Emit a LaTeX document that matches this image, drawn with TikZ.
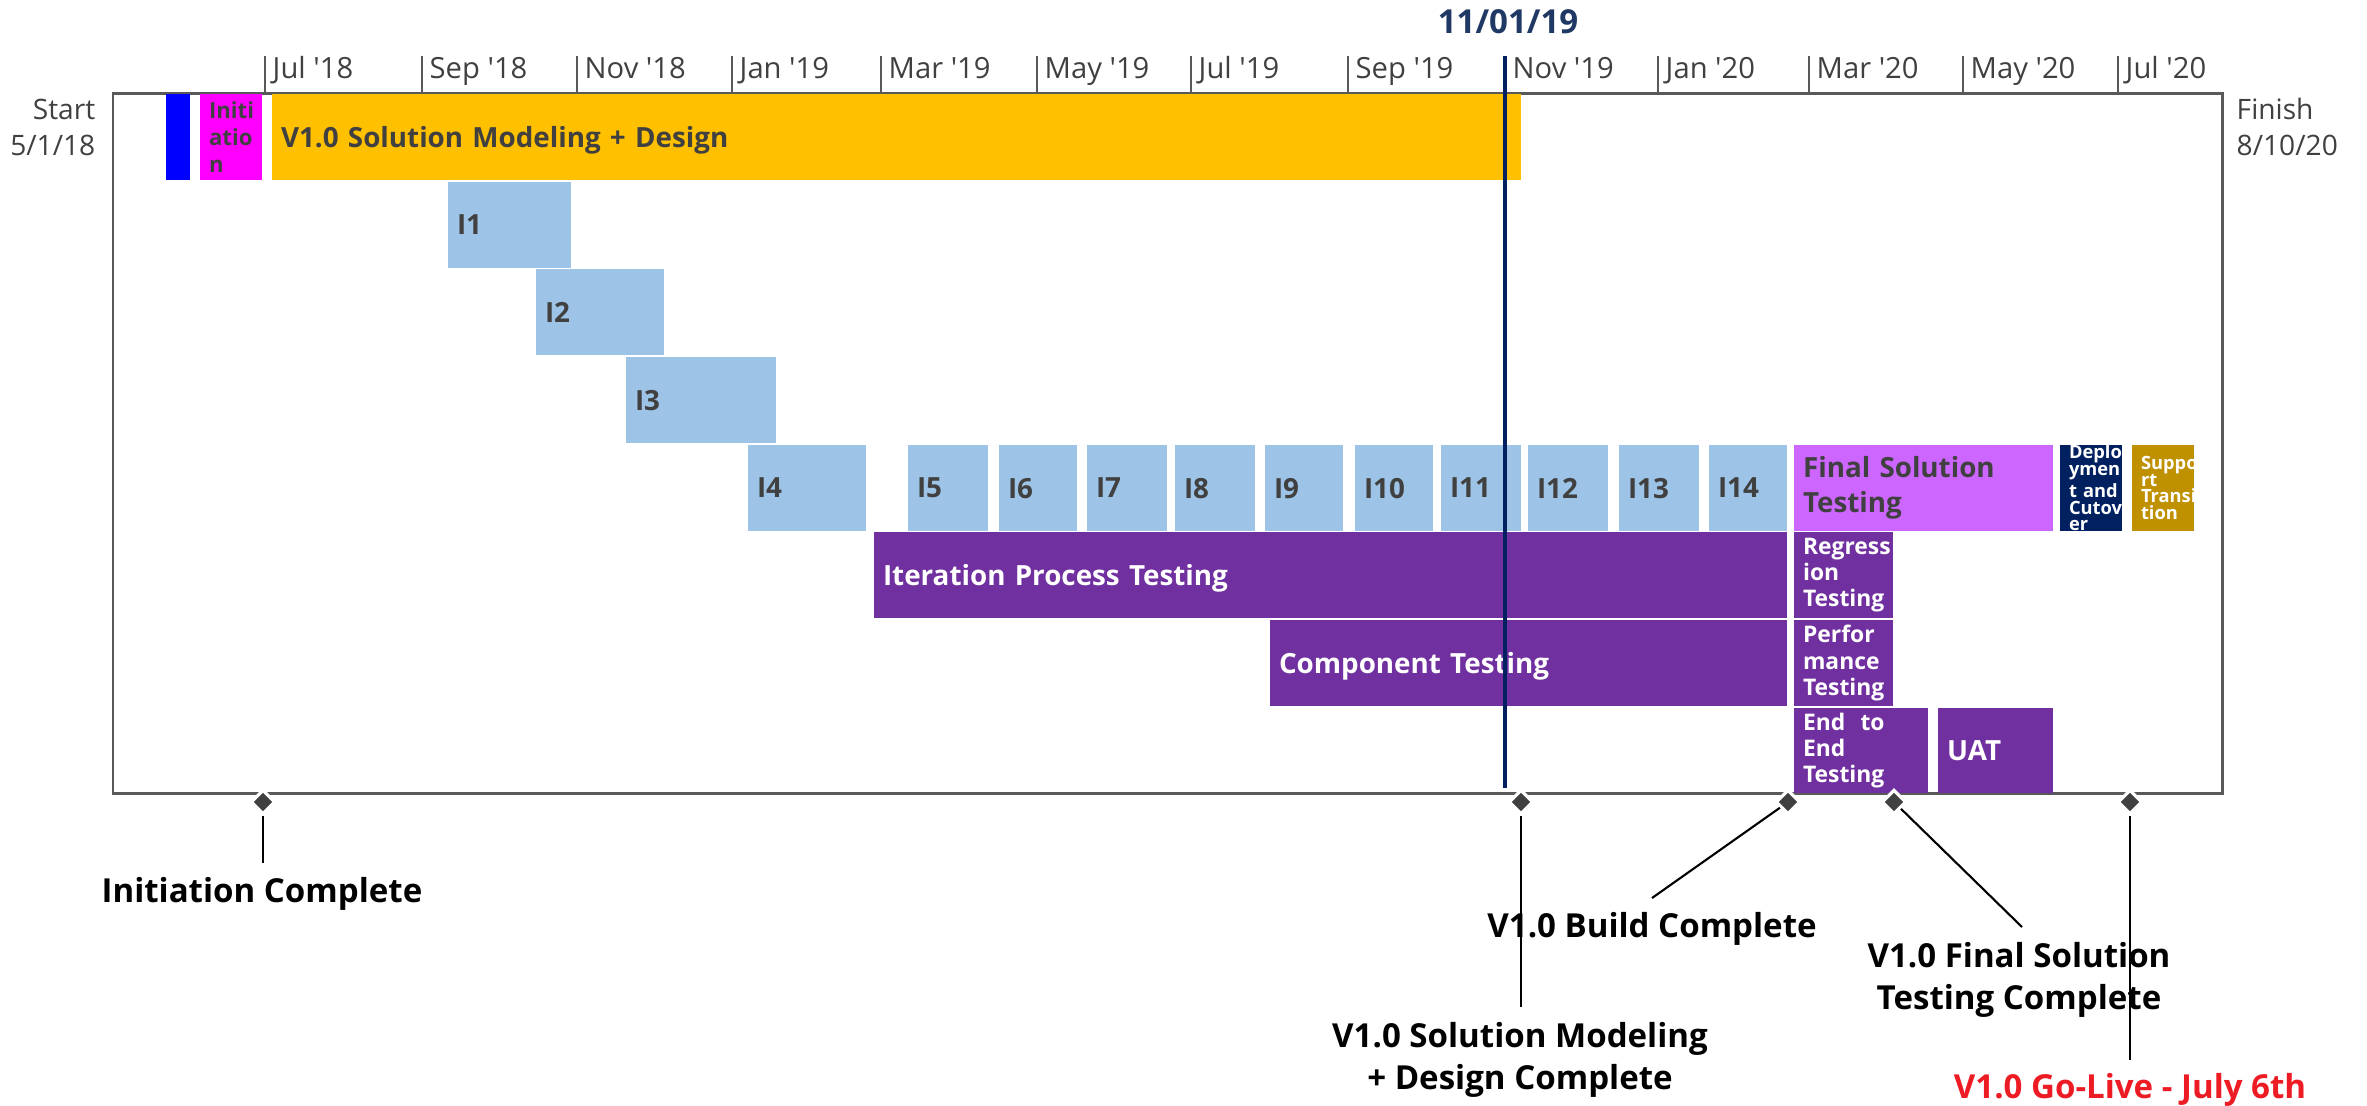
\documentclass[tikz,border=0pt]{standalone}
\usepackage{fontspec}
\setmainfont{Open Sans}
\usetikzlibrary{shapes.geometric}
\hyphenpenalty=10000
\exhyphenpenalty=10000
\definecolor{txtgray}{HTML}{404040}
\definecolor{framegray}{HTML}{595959}
\definecolor{ltblue}{HTML}{9DC3E6}
\definecolor{pbar}{HTML}{7030A0}
\definecolor{pinkbar}{HTML}{CC66FF}
\definecolor{navybar}{HTML}{002060}
\definecolor{goldbar}{HTML}{BF9000}
\definecolor{yellowbar}{HTML}{FFC000}
\definecolor{magbar}{HTML}{FF00FF}
\definecolor{bluebar}{HTML}{0000FF}
\definecolor{todaynavy}{HTML}{002060}
\definecolor{todaytxt}{HTML}{1F3864}
\definecolor{msgray}{HTML}{404040}
\definecolor{golive}{HTML}{ED1C24}
\tikzset{
  frame/.style={draw=framegray, line width=0.85pt},
  tickline/.style={draw=framegray, line width=0.6pt},
  month/.style={anchor=base west, inner sep=0pt, text=txtgray, font=\fontsize{8.3pt}{10pt}\selectfont},
  se/.style={inner sep=0pt, text=txtgray, font=\fontsize{8pt}{10.25pt}\selectfont},
  gb/.style={anchor=north west, inner xsep=0.09cm, inner ysep=0pt, outer sep=0pt, align=left},
  oneline/.style={text depth=0pt},
  lbl/.style={font=\fontsize{7.9pt}{9.96pt}\selectfont\bfseries},
  smalllbl/.style={font=\fontsize{6.5pt}{7.4pt}\selectfont\bfseries},
  tinylbl/.style={font=\fontsize{5.2pt}{4.75pt}\selectfont\bfseries},
  dk/.style={text=txtgray},
  wt/.style={text=white},
  ib/.style={dk, lbl, oneline, fill=ltblue},
  pb/.style={wt, lbl, oneline, fill=pbar},
  psmall/.style={wt, smalllbl, fill=pbar},
  todayline/.style={draw=todaynavy, line width=1.1pt},
  todaylbl/.style={inner sep=0pt, text=todaytxt, font=\fontsize{9.4pt}{11pt}\selectfont\bfseries},
  ms/.style={diamond, fill=msgray, draw=white, line width=0.9pt, minimum width=0.245cm, minimum height=0.245cm, inner sep=0pt},
  msline/.style={draw=black, line width=0.6pt},
  mslab/.style={font=\fontsize{9.4pt}{12pt}\selectfont\bfseries, inner sep=0pt, align=center, text=black}
}
\newcommand\gbar[7]{%
  \pgfmathsetmacro\gbw{(#4-#2-18)*0.01}%
  \pgfmathsetmacro\gbh{(#5-#3)*0.01}%
  \node[gb,#6,text width=\gbw cm,minimum height=\gbh cm] (#1) at (#2,#3) {#7};}
\begin{document}
\begin{tikzpicture}[x=0.01cm,y=-0.01cm]
\useasboundingbox (0,0) rectangle (2367,1105);
% frame
\draw[frame] (113,93) rectangle (2222,793);
% month ticks
\foreach \x/\m in {265/Jul \textquotesingle18, 422/Sep \textquotesingle18, 577/Nov \textquotesingle18, 732/Jan \textquotesingle19, 881/Mar \textquotesingle19, 1037/May \textquotesingle19, 1191/Jul \textquotesingle19, 1348/Sep \textquotesingle19, 1505/Nov \textquotesingle19, 1658/Jan \textquotesingle20, 1809/Mar \textquotesingle20, 1963/May \textquotesingle20, 2118/Jul \textquotesingle20}{
  \draw[tickline] (\x,56) -- (\x,93);
  \node[month] (mon\x) at (\x+7,78) {\m};
}
% start / finish
\node[se, align=right, anchor=east] (start) at (96,127) {Start\\5/1/18};
\node[se, align=left, anchor=west] (finish) at (2236,127) {Finish\\8/10/20};
% row 1
\gbar{blue}{166}{94}{190}{180}{fill=bluebar}{}
\gbar{init}{200}{94}{262}{180}{dk, fill=magbar, font=\fontsize{6.3pt}{7.7pt}\selectfont\bfseries}{Initi\\atio\\n}
\gbar{design}{272}{94}{1521}{180}{dk, lbl, oneline, fill=yellowbar}{V1.0 Solution Modeling + Design}
% rows 2-4
\gbar{i1}{448}{182}{571}{268}{ib}{I1}
\gbar{i2}{536}{269}{664}{355}{ib}{I2}
\gbar{i3}{626}{357}{776}{443}{ib}{I3}
% row 5
\gbar{i4}{748}{445}{866}{531}{ib}{I4}
\gbar{i5}{908}{445}{988}{531}{ib}{I5}
\gbar{i6}{999}{445}{1077}{531}{ib}{I6}
\gbar{i7}{1087}{445}{1167}{531}{ib}{I7}
\gbar{i8}{1175}{445}{1255}{531}{ib}{I8}
\gbar{i9}{1265}{445}{1343}{531}{ib}{I9}
\gbar{i10}{1355}{445}{1433}{531}{ib}{I10}
\gbar{i11}{1441}{445}{1521}{531}{ib}{I11}
\gbar{i12}{1528}{445}{1608}{531}{ib}{I12}
\gbar{i13}{1619}{445}{1699}{531}{ib}{I13}
\gbar{i14}{1709}{445}{1787}{531}{ib}{I14}
\gbar{fst}{1794}{445}{2053}{531}{dk, lbl, fill=pinkbar}{Final Solution\\Testing}
\gbar{deploy}{2060}{445}{2122}{531}{wt, tinylbl, fill=navybar}{Deplo\\ymen\\t~and\\Cutov\\er}
\gbar{support}{2132}{445}{2194}{531}{wt, tinylbl, fill=goldbar}{Suppo\\rt\\Transi\\tion}
% row 6
\gbar{ipt}{874}{532}{1787}{618}{pb}{Iteration Process Testing}
\gbar{reg}{1794}{532}{1893}{618}{psmall}{Regress\\ion\\Testing}
% row 7
\gbar{ct}{1270}{620}{1787}{706}{pb}{Component Testing}
\gbar{perf}{1794}{620}{1893}{706}{psmall}{Perfor\\mance\\Testing}
% row 8
\gbar{e2e}{1794}{708}{1928}{793}{psmall}{End~~to\\End\\Testing}
\gbar{uat}{1938}{708}{2053}{793}{pb}{UAT}
% today line
\node[todaylbl, anchor=base] (today) at (1508,33) {11/01/19};
\coordinate (tltop) at (1505,56);
\coordinate (tlbot) at (1505,788);
\draw[todayline] (tltop) -- (tlbot);
% milestones
\node[mslab, anchor=base] (l1) at (262,902) {Initiation Complete};
\node[mslab] (l2) at (1520,1060) {V1.0 Solution Modeling\\+ Design Complete};
\node[mslab, anchor=base] (l3) at (1652,937) {V1.0 Build Complete};
\node[mslab] (l4) at (2019,980) {V1.0 Final Solution\\Testing Complete};
\node[mslab, anchor=base, text=golive] (l5) at (2130,1098) {V1.0 Go-Live - July 6th};
\node[ms] (m1) at (263,802) {};
\node[ms] (m2) at (1521,802) {};
\node[ms] (m3) at (1788,802) {};
\node[ms] (m4) at (1894,802) {};
\node[ms] (m5) at (2130,802) {};
\coordinate (e1) at (263,863);
\coordinate (e2) at (1521,1007);
\coordinate (e3) at (1652,898);
\coordinate (e4) at (2022,927);
\coordinate (e5) at (2130,1060);
\draw[msline] (m1) -- (e1);
\draw[msline] (m2) -- (e2);
\draw[msline] (m3) -- (e3);
\draw[msline] (m4) -- (e4);
\draw[msline] (m5) -- (e5);
\end{tikzpicture}
\end{document}
